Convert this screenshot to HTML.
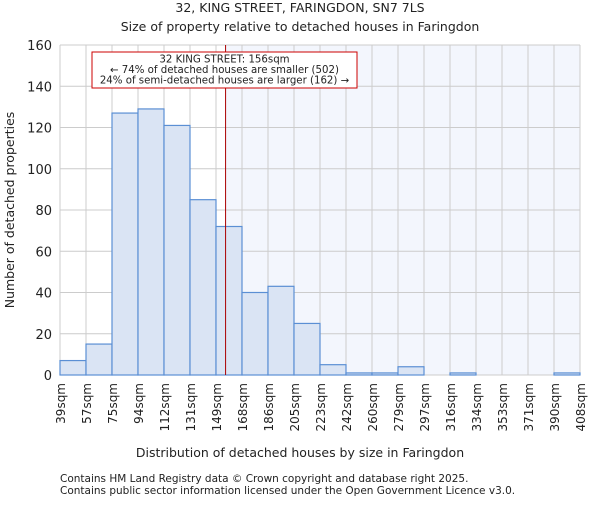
<!DOCTYPE html>
<html><head><meta charset="utf-8"><style>
body{margin:0;background:#fff;}
svg text{font-family:"DejaVu Sans","Liberation Sans",sans-serif;fill:#222;}
</style></head><body>
<svg id="chart" width="600" height="500" xmlns="http://www.w3.org/2000/svg">
<text x="300" y="12" font-size="12.5" text-anchor="middle">32, KING STREET, FARINGDON, SN7 7LS</text>
<text x="300" y="31" font-size="12.5" text-anchor="middle">Size of property relative to detached houses in Faringdon</text>
<g id="plot"></g>
<text x="300" y="457" font-size="12.5" text-anchor="middle">Distribution of detached houses by size in Faringdon</text>
<text transform="translate(14,210) rotate(-90)" font-size="12.5" text-anchor="middle">Number of detached properties</text>
<text x="60" y="482" font-size="10.5">Contains HM Land Registry data © Crown copyright and database right 2025.</text>
<text x="60" y="494" font-size="10.5">Contains public sector information licensed under the Open Government Licence v3.0.</text>
</svg>
<script>
const binLabels=["39sqm","57sqm","75sqm","94sqm","112sqm","131sqm","149sqm","168sqm","186sqm","205sqm","223sqm","242sqm","260sqm","279sqm","297sqm","316sqm","334sqm","353sqm","371sqm","390sqm","408sqm"];
const binEdges=[39,57,75,94,112,131,149,168,186,205,223,242,260,279,297,316,334,353,371,390,408];
const counts=[7,15,127,129,121,85,72,40,43,25,5,1,1,4,0,1,0,0,0,1];
const yTicks=[0,20,40,60,80,100,120,140,160];
const propertySize=156;
const L=60,R=580,T=45,B=375,NS="http://www.w3.org/2000/svg";
const g=document.getElementById('plot');
const nb=counts.length;
function xi(i){return L+(R-L)*i/nb;}
function xv(v){for(let i=0;i<nb;i++){if(v<=binEdges[i+1])return xi(i)+(xi(i+1)-xi(i))*(v-binEdges[i])/(binEdges[i+1]-binEdges[i]);}return R;}
function y(v){return B-(B-T)*v/160;}
function el(t,a){const e=document.createElementNS(NS,t);for(const k in a)e.setAttribute(k,a[k]);g.appendChild(e);return e;}
const px=xv(propertySize);
let e=el('rect',{x:px,y:T,width:R-px,height:B-T,fill:'#f3f6fd'});


for(let i=0;i<=nb;i++){e=el('line',{x1:xi(i),x2:xi(i),y1:T,y2:B,stroke:'#cccccc','stroke-width':1});

}
yTicks.forEach(t=>{e=el('line',{x1:L,x2:R,y1:y(t),y2:y(t),stroke:'#cccccc','stroke-width':1});


const tx=el('text',{x:L-8,y:y(t)+5,'font-size':13,'text-anchor':'end'});tx.textContent=t;

});
counts.forEach((c,i)=>{e=el('rect',{x:xi(i),y:y(c),width:xi(i+1)-xi(i),height:B-y(c),fill:'#dae4f4',stroke:'#5b8fd4','stroke-width':1.2});

});
binLabels.forEach((l,i)=>{const tx=el('text',{transform:`translate(${xi(i)+5},383) rotate(-90)`,'font-size':12,'text-anchor':'end'});tx.textContent=l;

});
e=el('line',{x1:px,x2:px,y1:T,y2:B,stroke:'#aa0000','stroke-width':1});


e=el('rect',{x:92,y:52,width:265,height:36,fill:'#fff',stroke:'#cc0000','stroke-width':1});


["32 KING STREET: 156sqm","← 74% of detached houses are smaller (502)","24% of semi-detached houses are larger (162) →"].forEach((s,k)=>{const tx=el('text',{x:224.5,y:62.5+k*10.5,'font-size':10.2,'text-anchor':'middle'});tx.textContent=s;

});
</script>
</body></html>
